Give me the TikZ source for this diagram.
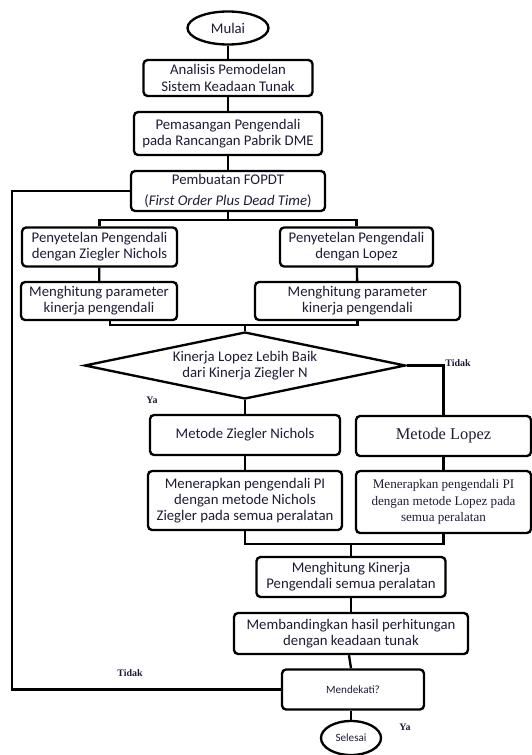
\documentclass[tikz,border=0pt]{standalone}
\usepackage{fontspec}
\setmainfont{Carlito}
\newfontfamily\timesf{Liberation Serif}
\usepackage{xcolor}
\usetikzlibrary{shapes.geometric}
\definecolor{inktext}{HTML}{1C1C36}

\begin{document}
\begin{tikzpicture}[x=0.03cm, y=-0.03cm, line width=2pt,
    box/.style 2 args={draw, rounded corners=3.5pt, align=center, inner sep=1pt,
        minimum width=#1*0.03cm, minimum height=#2*0.03cm, text=inktext,
        font=\fontsize{12.6}{13.8}\selectfont},
    term/.style 2 args={draw, ellipse, inner sep=0pt, text=inktext,
        minimum width=#1*0.03cm, minimum height=#2*0.03cm},
    serifbox/.style={font=\timesf\fontsize{11.2}{14}\selectfont},
    lbl/.style={font=\timesf\fontsize{8.5}{10}\selectfont\bfseries, text=inktext}]
        \useasboundingbox (0,0) rectangle (532,755);

        % start and upper steps
        \node[term={81}{33}, font=\fontsize{12.6}{13}\selectfont] (mulai) at (228,28) {Mulai};
        \node[box={169}{36}] (analisis) at (228,78) {Analisis Pemodelan\\Sistem Keadaan Tunak};
        \node[box={188}{43}] (pasang) at (228,133.5) {Pemasangan Pengendali\\pada Rancangan Pabrik DME};
        \node[box={194}{40}, font=\fontsize{12.6}{18}\selectfont] (fopdt) at (228,191)
            {Pembuatan FOPDT\\(\textit{First Order Plus Dead Time})};
        \draw (mulai) -- (analisis);
        \draw (analisis) -- (pasang);
        \draw (pasang) -- (fopdt);

        % two tuning branches
        \node[box={155}{39}] (setzn) at (99.5,247) {Penyetelan Pengendali\\dengan Ziegler Nichols};
        \node[box={153}{39}] (setlopez) at (356.5,247) {Penyetelan Pengendali\\dengan Lopez};
        \node[box={156}{38}] (hitzn) at (99,301) {Menghitung parameter\\kinerja pengendali};
        \node[box={205}{38}] (hitlopez) at (357.5,301) {Menghitung parameter\\kinerja pengendali};
        \coordinate (split1) at (228,220);
        \draw (fopdt) -- (split1);
        \draw (split1) -| (setzn);
        \draw (split1) -| (setlopez);
        \draw (setzn) -- (hitzn);
        \draw (setlopez) -- (hitlopez);

        % decision
        \node[draw, diamond, aspect=4.8, inner sep=0pt, minimum width=321*0.03cm,
            minimum height=67*0.03cm, align=center, text=inktext,
            font=\fontsize{12.6}{14}\selectfont] (banding1) at (245,365.5)
            {Kinerja Lopez Lebih Baik\\dari Kinerja Ziegler N};
        \coordinate (join1) at (245,325);
        \draw ([xshift=0.33cm]hitzn.south) |- (join1);
        \draw (hitlopez.south) |- (join1);
        \draw (join1) -- (banding1);

        % chosen method
        \node[box={190}{40}] (metzn) at (245,435) {Metode Ziegler Nichols};
        \node[box={175}{40}, font=\timesf\fontsize{14}{16}\selectfont] (metlopez) at (443.5,436) {Metode Lopez};
        \node[box={194}{59}] (terapzn) at (245,500.5)
            {Menerapkan pengendali PI\\dengan metode Nichols\\Ziegler pada semua peralatan};
        \node[box={175}{62}, serifbox] (terapldopez) at (443.5,502)
            {Menerapkan pengendali PI\\dengan metode Lopez pada\\semua peralatan};
        \draw (banding1.south) -- (metzn);
        \draw (banding1.east) -| (metlopez);
        \draw (metzn) -- (terapzn);
        \draw (metlopez) -- (terapldopez);
        \node[lbl] (tidak1) at (458,363) {Tidak};
        \node[lbl] (ya1) at (152,400) {Ya};

        % evaluation and end
        \coordinate (join2) at (351,544);
        \node[box={189}{40}] (hitkin) at (351,577) {Menghitung Kinerja\\Pengendali semua peralatan};
        \node[box={234}{41}] (bandingkan) at (351,633.5) {Membandingkan hasil perhitungan\\dengan keadaan tunak};
        \node[box={142}{40}, font=\fontsize{9.5}{11}\selectfont] (dekat) at (353,689.5) {Mendekati?};
        \node[term={60}{34}, font=\fontsize{9.5}{11}\selectfont] (selesai) at (351,738) {Selesai};
        \draw (terapzn.south) |- (join2);
        \draw (terapldopez.south) |- (join2);
        \draw (join2) -- (hitkin);
        \draw (hitkin) -- (bandingkan);
        \draw ([xshift=-0.06cm]bandingkan.south) -- ([xshift=-0.06cm]dekat.north);
        \draw ([xshift=-0.06cm]dekat.south) -- (selesai);
        \coordinate (loop1) at (12,191);
        \draw (dekat.west) -| (loop1) -- (fopdt.west);
        \node[lbl] (tidak2) at (130,673) {Tidak};
        \node[lbl] (ya2) at (405,727) {Ya};
\end{tikzpicture}
\end{document}
